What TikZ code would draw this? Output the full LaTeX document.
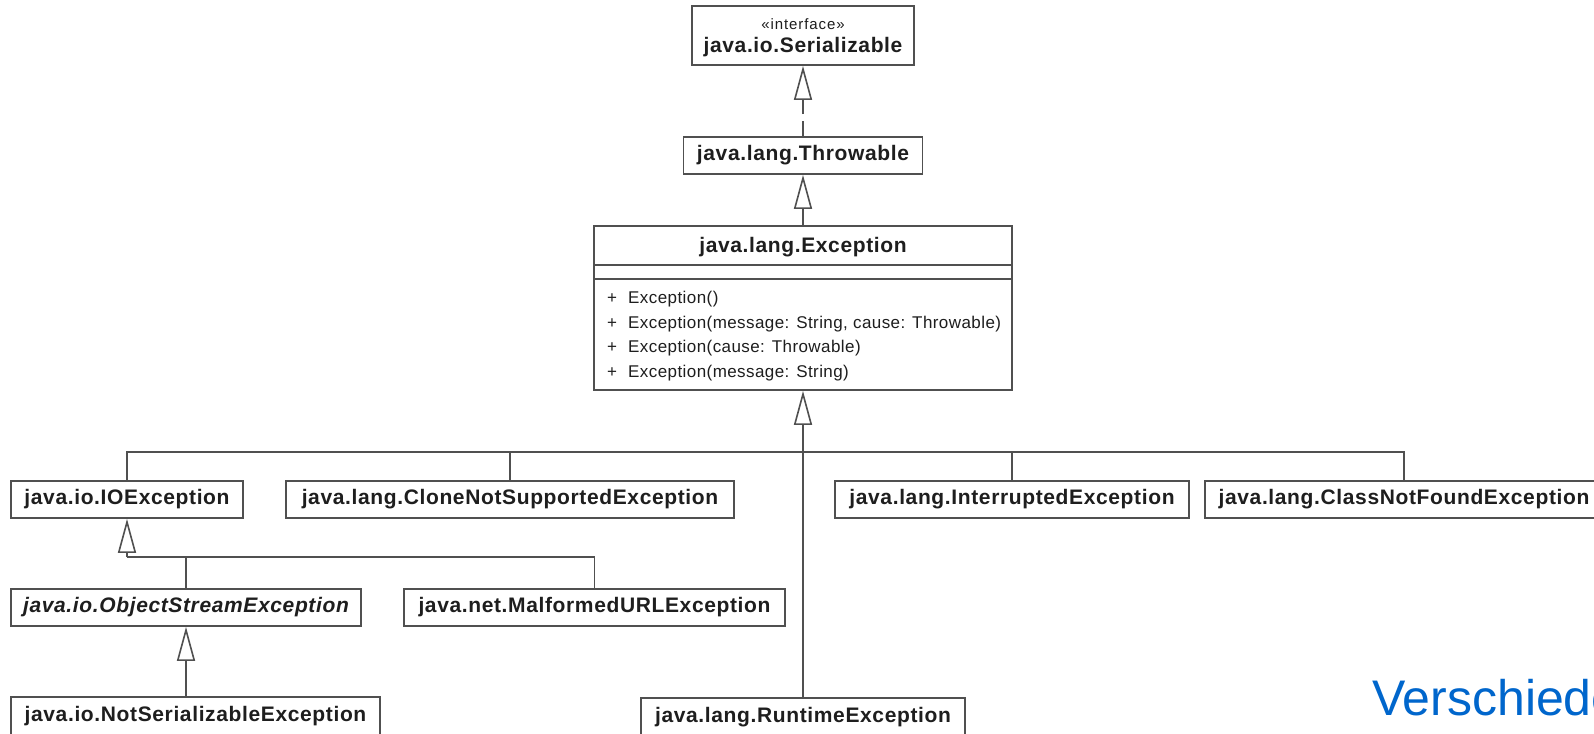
\documentclass[tikz,border=0pt]{standalone}
\usepackage{fontspec}
\setmainfont{Liberation Sans}
\usetikzlibrary{arrows.meta}
\newfontfamily\clsfam[LetterSpace=3]{Liberation Sans}
\newfontfamily\mthfam[LetterSpace=2.5]{Liberation Sans}
\newfontfamily\stfam[LetterSpace=6]{Liberation Sans}
\newcommand\nmfont{\clsfam\bfseries\fontsize{21}{24}\selectfont}
\newcommand\abfont{\clsfam\bfseries\itshape\fontsize{21}{24}\selectfont}
\newcommand\mtfont{\mthfam\fontsize{17}{20}\selectfont}
\newcommand\stfont{\stfam\fontsize{15}{18}\selectfont}
\definecolor{lc}{RGB}{80,80,80}
\definecolor{tc}{RGB}{30,30,30}
\definecolor{blu}{RGB}{0,102,204}
\tikzset{
  cls/.style={draw=lc, line width=1.8pt, fill=white, minimum height=37pt, inner sep=0pt, font=\nmfont, text=tc},
  conn/.style={draw=lc, line width=1.6pt},
  gen/.style={conn, -{Triangle[open, length=34pt, width=18pt]}},
  mth/.style={anchor=base west, inner sep=0pt, font=\mtfont, text=tc},
}
\begin{document}
\begin{tikzpicture}[x=1pt, y=-1pt]
\useasboundingbox (0,0) rectangle (1594,733);
\fill[white] (0,0) rectangle (1594,733);

% top boxes
\node[cls, minimum width=222pt, minimum height=59pt] (ser) at (803,35.5) {};
\node[font=\stfont, text=tc, inner sep=0pt] (serst) at (803,24) {«interface»};
\node[font=\nmfont, text=tc, anchor=base, inner sep=0pt] (sername) at (803,53) {java.io.Serializable};

\node[cls, minimum width=239pt] (thr) at (803,155.5) {java.lang.Throwable};

% Exception class box
\node[cls, minimum width=418pt, minimum height=164pt] (exc) at (803,308) {};
\node[font=\nmfont, text=tc, anchor=base, inner sep=0pt] (excname) at (803,252) {java.lang.Exception};
\draw[draw=lc, line width=1.6pt] (594,265) -- (1012,265);
\draw[draw=lc, line width=1.6pt] (594,279) -- (1012,279);
\node[mth] (p1) at (607,303) {+};
\node[mth] (m1) at (628,303) {Exception()};
\node[mth] (p2) at (607,328) {+};
\node[mth] (m2) at (628,328) {Exception(message: String, cause: Throwable)};
\node[mth] (p3) at (607,352) {+};
\node[mth] (m3) at (628,352) {Exception(cause: Throwable)};
\node[mth] (p4) at (607,377) {+};
\node[mth] (m4) at (628,377) {Exception(message: String)};

% subclasses
\node[cls, minimum width=232pt] (io) at (127,499.5) {java.io.IOException};
\node[cls, minimum width=448pt] (clone) at (510,499.5) {java.lang.CloneNotSupportedException};
\node[cls, minimum width=354pt] (intr) at (1012,499.5) {java.lang.InterruptedException};
\node[cls, minimum width=398pt] (cnf) at (1404,499.5) {java.lang.ClassNotFoundException};
\node[cls, minimum width=350pt, font=\abfont] (ose) at (186,607.5) {java.io.ObjectStreamException};
\node[cls, minimum width=381pt] (mal) at (594.5,607.5) {java.net.MalformedURLException};
\node[cls, minimum width=369pt, minimum height=38pt] (nse) at (195.5,716) {java.io.NotSerializableException};
\node[cls, minimum width=324pt, minimum height=38pt] (rte) at (803,717) {java.lang.RuntimeException};

% connectors
\draw[gen, dash pattern=on 15pt off 7pt] (thr.north) -- (ser.south);
\draw[gen] (exc.north) -- (thr.south);

\coordinate (b1) at (803,452);
\draw[gen] (b1) -- (exc.south);
\draw[conn] (io.north) |- (b1) -| (cnf.north);
\draw[conn] (clone.north) -- (clone.north |- b1);
\draw[conn] (intr.north) -- (intr.north |- b1);
\draw[conn] (rte.north) -- (b1);

\coordinate (b2) at (127,557);
\draw[gen] (b2) -- (io.south);
\draw[conn] (b2) -| (mal.north);
\draw[conn] (ose.north) -- (ose.north |- b2);
\draw[gen] (nse.north -| ose.south) -- (ose.south);

% caption fragment
\node[anchor=base west, inner sep=0pt, font=\fontsize{50}{60}\selectfont, text=blu] (cap) at (1372,715) {Verschiede};
\end{tikzpicture}
\end{document}
